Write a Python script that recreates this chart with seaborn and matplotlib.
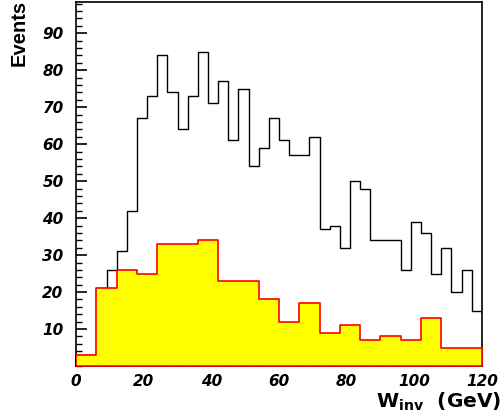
import matplotlib
matplotlib.use("Agg")
import matplotlib.pyplot as plt
import numpy as np
import pandas as pd
import seaborn as sns
from matplotlib.ticker import MultipleLocator

# all events, 3 GeV bins from 0 to 120
ALL_EVENTS = [3, 3, 21, 26, 31, 42, 67, 73, 84, 74,
              64, 73, 85, 71, 77, 61, 75, 54, 59, 67,
              61, 57, 57, 62, 37, 38, 32, 50, 48, 34,
              34, 34, 26, 39, 36, 25, 32, 20, 26, 15]
# selected events, 6 GeV bins from 0 to 120
SELECTED = [3, 21, 26, 25, 33, 33, 34, 23, 23, 18,
            12, 17, 9, 11, 7, 8, 7, 13, 5, 5]
X_TICKS = [0, 20, 40, 60, 80, 100, 120]
Y_TICKS = [10, 20, 30, 40, 50, 60, 70, 80, 90]


def main():
    sns.set_style("white")
    plt.rcParams["font.family"] = ["Liberation Sans", "DejaVu Sans"]
    plt.rcParams["text.color"] = "black"
    plt.rcParams["xtick.color"] = "black"
    plt.rcParams["ytick.color"] = "black"
    plt.rcParams["axes.labelcolor"] = "black"
    plt.rcParams["mathtext.fontset"] = "dejavusans"

    fig = plt.figure(figsize=(5.04, 4.16), dpi=100)
    ax = fig.add_axes([0.151, 0.120, 0.805, 0.875])

    edges_all = np.linspace(0, 120, len(ALL_EVENTS) + 1)
    edges_sel = np.linspace(0, 120, len(SELECTED) + 1)
    df_all = pd.DataFrame({"w": (edges_all[:-1] + edges_all[1:]) / 2,
                           "n": ALL_EVENTS})
    df_sel = pd.DataFrame({"w": (edges_sel[:-1] + edges_sel[1:]) / 2,
                           "n": SELECTED})

    sns.histplot(data=df_all, x="w", weights="n", bins=list(edges_all),
                 element="step", fill=False, color="black", linewidth=1.0,
                 ax=ax, zorder=2)
    sns.histplot(data=df_sel, x="w", weights="n", bins=list(edges_sel),
                 element="step", fill=True, facecolor="#ffff00",
                 edgecolor="#ff0000", alpha=1, linewidth=1.2,
                 ax=ax, zorder=3)

    ax.set_xlim(0, 120)
    ax.set_ylim(0, 98.4)
    ax.set_xticks(X_TICKS)
    ax.set_yticks(Y_TICKS)
    ax.xaxis.set_minor_locator(MultipleLocator(5))
    ax.yaxis.set_minor_locator(MultipleLocator(2))
    ax.tick_params(which="both", direction="in", color="black",
                   labelcolor="black",
                   top=False, right=False, left=True, bottom=True)
    ax.tick_params(which="major", length=8, width=1.2)
    ax.tick_params(which="minor", length=4, width=1.0)
    ax.tick_params(axis="x", pad=6)
    ax.tick_params(axis="y", pad=9)
    for lbl in ax.get_xticklabels() + ax.get_yticklabels():
        lbl.set_fontfamily("DejaVu Sans")
        lbl.set_fontsize(11)
        lbl.set_fontweight("bold")
        lbl.set_fontstyle("italic")

    for sp in ax.spines.values():
        sp.set_color("black")
        sp.set_linewidth(1.2)

    ax.set_xlabel("")
    ax.set_ylabel("")
    fig.text(0.038, 1.0, "Events", rotation=90, ha="center", va="top",
             fontsize=14.5, fontweight="bold", color="black")
    fig.text(0.995, 0.008, r"W$_{\mathbf{inv}}$  (GeV)", ha="right", va="bottom",
             fontfamily="DejaVu Sans", fontsize=14.5, fontweight="bold",
             color="black")

    fig.savefig("out.png", dpi=100)


if __name__ == "__main__":
    main()
